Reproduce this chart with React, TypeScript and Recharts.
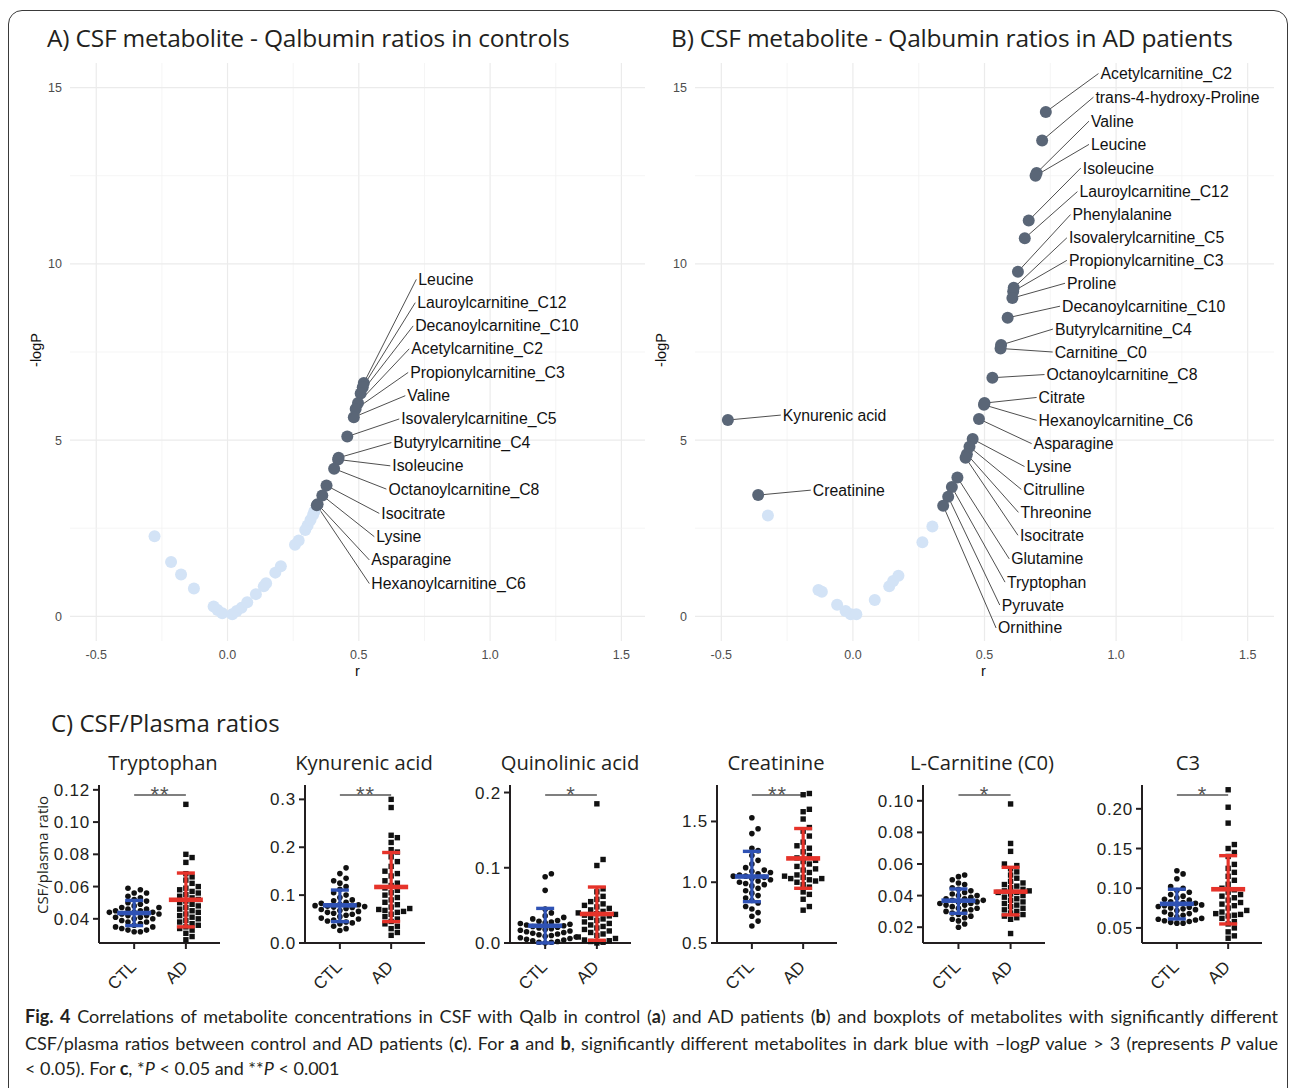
import React from 'react';
import { ScatterChart, Scatter, XAxis, YAxis, ReferenceLine } from 'recharts';

// ---------- Panel A (controls) ----------
const aBgR = [-0.278, -0.215, -0.177, -0.128, -0.053, -0.038, -0.020, 0.018, 0.035, 0.053, 0.075, 0.108, 0.138, 0.147, 0.182, 0.203, 0.257, 0.271, 0.296, 0.305, 0.316, 0.326, 0.331];
const aBgLogP = [2.27, 1.54, 1.19, 0.79, 0.28, 0.18, 0.09, 0.06, 0.15, 0.24, 0.40, 0.63, 0.85, 0.94, 1.24, 1.42, 2.03, 2.15, 2.45, 2.58, 2.73, 2.88, 2.98];
const aSigNames = ['Leucine', 'Lauroylcarnitine_C12', 'Decanoylcarnitine_C10', 'Acetylcarnitine_C2', 'Propionylcarnitine_C3', 'Valine', 'Isovalerylcarnitine_C5', 'Butyrylcarnitine_C4', 'Isoleucine', 'Octanoylcarnitine_C8', 'Isocitrate', 'Lysine', 'Asparagine', 'Hexanoylcarnitine_C6'];
const aSigR = [0.519, 0.515, 0.507, 0.497, 0.488, 0.481, 0.456, 0.423, 0.421, 0.406, 0.377, 0.361, 0.343, 0.340];
const aSigLogP = [6.62, 6.50, 6.32, 6.05, 5.88, 5.65, 5.10, 4.50, 4.45, 4.19, 3.71, 3.43, 3.18, 3.15];
const aLabelR = [0.719, 0.715, 0.707, 0.692, 0.688, 0.677, 0.654, 0.624, 0.620, 0.605, 0.578, 0.559, 0.540, 0.540];
const aLabelLogP = [9.56, 8.90, 8.24, 7.59, 6.92, 6.26, 5.60, 4.93, 4.27, 3.61, 2.92, 2.26, 1.60, 0.93];

// ---------- Panel B (AD patients) ----------
const bBgR = [-0.323, -0.131, -0.118, -0.060, -0.028, -0.008, 0.013, 0.083, 0.138, 0.153, 0.173, 0.264, 0.302];
const bBgLogP = [2.86, 0.75, 0.70, 0.33, 0.15, 0.06, 0.06, 0.46, 0.85, 1.00, 1.15, 2.10, 2.55];
const bSigNames = ['Acetylcarnitine_C2', 'trans-4-hydroxy-Proline', 'Valine', 'Leucine', 'Isoleucine', 'Lauroylcarnitine_C12', 'Phenylalanine', 'Isovalerylcarnitine_C5', 'Propionylcarnitine_C3', 'Proline', 'Decanoylcarnitine_C10', 'Butyrylcarnitine_C4', 'Carnitine_C0', 'Octanoylcarnitine_C8', 'Citrate', 'Hexanoylcarnitine_C6', 'Asparagine', 'Lysine', 'Citrulline', 'Threonine', 'Isocitrate', 'Glutamine', 'Tryptophan', 'Pyruvate', 'Ornithine', 'Kynurenic acid', 'Creatinine'];
const bSigR = [0.733, 0.719, 0.698, 0.694, 0.668, 0.653, 0.627, 0.611, 0.609, 0.606, 0.588, 0.563, 0.561, 0.530, 0.500, 0.498, 0.479, 0.455, 0.443, 0.433, 0.428, 0.397, 0.376, 0.362, 0.343, -0.475, -0.360];
const bSigLogP = [14.31, 13.50, 12.58, 12.50, 11.23, 10.73, 9.78, 9.32, 9.22, 9.03, 8.47, 7.70, 7.60, 6.77, 6.05, 6.00, 5.60, 5.03, 4.81, 4.60, 4.50, 3.94, 3.67, 3.39, 3.14, 5.57, 3.44];
const bLabelR = [0.933, 0.914, 0.897, 0.897, 0.866, 0.853, 0.827, 0.813, 0.813, 0.806, 0.787, 0.760, 0.759, 0.728, 0.698, 0.698, 0.679, 0.652, 0.640, 0.629, 0.627, 0.594, 0.578, 0.558, 0.544, -0.274, -0.160];
const bLabelLogP = [15.40, 14.73, 14.05, 13.39, 12.72, 12.05, 11.40, 10.74, 10.10, 9.45, 8.80, 8.15, 7.50, 6.86, 6.21, 5.56, 4.90, 4.25, 3.60, 2.95, 2.30, 1.63, 0.97, 0.32, -0.33, 5.71, 3.58];

const volcXTicks = [-0.5, 0, 0.5, 1, 1.5];
const volcYTicks = [0, 5, 10, 15];
const volcGridX = [-0.5, -0.25, 0, 0.25, 0.5, 0.75, 1, 1.25, 1.5];
const volcGridY = [0, 2.5, 5, 7.5, 10, 12.5, 15];

// ---------- Panel C (CSF/plasma ratios) ----------
const cTitles = ['Tryptophan', 'Kynurenic acid', 'Quinolinic acid', 'Creatinine', 'L-Carnitine (C0)', 'C3'];
const cGroups = ['CTL', 'AD'];
const cStars = ['**', '**', '*', '**', '*', '*'];

const trpCTL = [0.059, 0.058, 0.056, 0.056, 0.054, 0.053, 0.052, 0.051, 0.050, 0.049, 0.048, 0.047, 0.047, 0.046, 0.046, 0.045, 0.045, 0.044, 0.044, 0.044, 0.043, 0.043, 0.042, 0.042, 0.041, 0.041, 0.040, 0.040, 0.039, 0.038, 0.038, 0.037, 0.036, 0.035, 0.035, 0.034, 0.033, 0.033, 0.032, 0.032];
const trpAD = [0.111, 0.080, 0.078, 0.075, 0.068, 0.066, 0.064, 0.062, 0.060, 0.059, 0.058, 0.057, 0.056, 0.055, 0.054, 0.053, 0.052, 0.051, 0.050, 0.049, 0.048, 0.047, 0.046, 0.045, 0.044, 0.043, 0.042, 0.041, 0.040, 0.039, 0.038, 0.037, 0.036, 0.035, 0.034, 0.033, 0.031, 0.029, 0.027];
const kynCTL = [0.157, 0.145, 0.135, 0.130, 0.125, 0.118, 0.112, 0.105, 0.100, 0.095, 0.090, 0.088, 0.085, 0.083, 0.081, 0.080, 0.078, 0.077, 0.076, 0.075, 0.074, 0.072, 0.070, 0.068, 0.066, 0.064, 0.062, 0.060, 0.058, 0.055, 0.052, 0.050, 0.048, 0.046, 0.044, 0.042, 0.040, 0.035, 0.030, 0.026];
const kynAD = [0.300, 0.283, 0.225, 0.220, 0.210, 0.195, 0.190, 0.180, 0.170, 0.160, 0.150, 0.145, 0.140, 0.130, 0.125, 0.120, 0.115, 0.110, 0.105, 0.100, 0.095, 0.090, 0.085, 0.080, 0.075, 0.072, 0.070, 0.068, 0.066, 0.064, 0.060, 0.055, 0.050, 0.045, 0.040, 0.035, 0.030, 0.022, 0.016];
const quinCTL = [0.092, 0.088, 0.070, 0.045, 0.040, 0.036, 0.034, 0.032, 0.030, 0.029, 0.028, 0.027, 0.026, 0.025, 0.024, 0.023, 0.022, 0.021, 0.020, 0.019, 0.018, 0.017, 0.016, 0.015, 0.014, 0.013, 0.012, 0.011, 0.010, 0.009, 0.008, 0.007, 0.006, 0.005, 0.004, 0.003, 0.002, 0.001, 0.001, 0.000];
const quinAD = [0.185, 0.111, 0.103, 0.072, 0.068, 0.062, 0.058, 0.055, 0.052, 0.050, 0.048, 0.046, 0.044, 0.042, 0.040, 0.039, 0.038, 0.037, 0.036, 0.034, 0.032, 0.030, 0.028, 0.026, 0.024, 0.022, 0.020, 0.018, 0.016, 0.014, 0.012, 0.010, 0.008, 0.006, 0.004, 0.003, 0.002, 0.001, 0.000];
const creaCTL = [1.53, 1.44, 1.40, 1.28, 1.26, 1.22, 1.18, 1.15, 1.12, 1.10, 1.09, 1.08, 1.07, 1.06, 1.05, 1.05, 1.04, 1.03, 1.02, 1.01, 1.00, 0.99, 0.98, 0.97, 0.95, 0.93, 0.91, 0.89, 0.87, 0.85, 0.83, 0.80, 0.78, 0.75, 0.72, 0.68, 0.64];
const creaAD = [1.73, 1.72, 1.60, 1.58, 1.52, 1.45, 1.42, 1.38, 1.33, 1.30, 1.28, 1.25, 1.22, 1.20, 1.18, 1.17, 1.15, 1.13, 1.11, 1.10, 1.08, 1.06, 1.05, 1.04, 1.03, 1.03, 1.02, 1.01, 1.00, 0.98, 0.96, 0.92, 0.90, 0.86, 0.80, 0.77];
const carnCTL = [0.053, 0.052, 0.050, 0.048, 0.047, 0.045, 0.044, 0.043, 0.042, 0.041, 0.040, 0.040, 0.039, 0.038, 0.038, 0.037, 0.037, 0.036, 0.036, 0.035, 0.035, 0.034, 0.034, 0.033, 0.032, 0.032, 0.031, 0.030, 0.030, 0.029, 0.028, 0.027, 0.026, 0.025, 0.024, 0.022, 0.020];
const carnAD = [0.098, 0.073, 0.068, 0.060, 0.059, 0.057, 0.055, 0.053, 0.051, 0.049, 0.048, 0.047, 0.046, 0.045, 0.044, 0.043, 0.043, 0.042, 0.042, 0.041, 0.040, 0.039, 0.038, 0.037, 0.036, 0.035, 0.034, 0.033, 0.032, 0.031, 0.030, 0.029, 0.028, 0.027, 0.026, 0.025, 0.016];
const c3CTL = [0.122, 0.118, 0.112, 0.102, 0.100, 0.097, 0.095, 0.092, 0.090, 0.088, 0.086, 0.085, 0.083, 0.082, 0.081, 0.080, 0.079, 0.078, 0.077, 0.076, 0.075, 0.074, 0.073, 0.072, 0.070, 0.068, 0.067, 0.066, 0.064, 0.062, 0.061, 0.060, 0.059, 0.058, 0.057, 0.056, 0.056];
const c3AD = [0.224, 0.202, 0.182, 0.155, 0.150, 0.145, 0.140, 0.130, 0.125, 0.120, 0.115, 0.110, 0.105, 0.100, 0.098, 0.095, 0.092, 0.090, 0.088, 0.085, 0.082, 0.080, 0.078, 0.075, 0.072, 0.070, 0.068, 0.067, 0.066, 0.065, 0.062, 0.058, 0.055, 0.050, 0.045, 0.040, 0.037];

const cCtlValues = [trpCTL, kynCTL, quinCTL, creaCTL, carnCTL, c3CTL];
const cAdValues = [trpAD, kynAD, quinAD, creaAD, carnAD, c3AD];
const ctlMean = [0.0436, 0.0787, 0.0229, 1.047, 0.0368, 0.0803];
const ctlLow = [0.0358, 0.0447, 0.0000, 0.840, 0.0288, 0.0613];
const ctlHigh = [0.0514, 0.1106, 0.0460, 1.254, 0.0442, 0.0987];
const adMean = [0.0518, 0.117, 0.0386, 1.196, 0.0425, 0.0987];
const adLow = [0.0350, 0.0447, 0.0036, 0.950, 0.0278, 0.0550];
const adHigh = [0.0684, 0.189, 0.0744, 1.442, 0.0579, 0.141];
const cYDomains = [[0.025, 0.123], [0, 0.33], [0, 0.21], [0.5, 1.8], [0.01, 0.11], [0.031, 0.23]];
const cYTicks = [[0.04, 0.06, 0.08, 0.10, 0.12], [0, 0.1, 0.2, 0.3], [0, 0.1, 0.2], [0.5, 1.0, 1.5], [0.02, 0.04, 0.06, 0.08, 0.10], [0.05, 0.10, 0.15, 0.20]];
const cDecimals = [2, 1, 1, 1, 2, 2];

// ---------- layout (pixels) ----------
const cAxisLeft = [99, 305, 510, 717, 923, 1142];
const cAxisRight = [220, 425, 631, 837, 1045, 1262];
const cTitleX = [163, 364, 570, 776, 982, 1188];
const C_TOP = 785;
const C_BOTTOM = 943;
const C_XDOMAIN = [0.32, 2.66];
const DOT = 6.2;

const SANS = "'Liberation Sans', Arial, sans-serif";
const MYRIAD = "'Open Sans', 'Noto Sans', sans-serif";
const INK = '#231f20';
const DARK = '#5a6677';
const LIGHT = '#d3e3f6';
const BLUE = '#2f52b4';
const RED = '#e6332a';

function swarm(values: number[], center: number, pxPerY: number, pxPerX: number) {
  const sorted = [...values].sort((a, b) => a - b);
  const placed: { x: number; y: number }[] = [];
  const out: { x: number; y: number }[] = [];
  for (const v of sorted) {
    const py = v * pxPerY;
    let off = 0;
    for (let step = 0; step < 60; step++) {
      const cand = step === 0 ? 0 : (step % 2 === 1 ? 1 : -1) * Math.ceil(step / 2) * DOT;
      const ok = placed.every((p) => Math.hypot(p.x - cand, p.y - py) >= DOT - 0.01);
      if (ok) { off = cand; break; }
    }
    placed.push({ x: off, y: py });
    out.push({ x: center + off / pxPerX, y: v });
  }
  return out;
}

const DarkDot = (p: any) => <circle cx={p.cx} cy={p.cy} r={6} fill={DARK} />;
const LightDot = (p: any) => <circle cx={p.cx} cy={p.cy} r={6} fill={LIGHT} />;
const LabelText = (p: any) => (
  <text x={p.cx + 2} y={p.cy} dominantBaseline="central" fontSize={15.8} fontFamily={SANS} fill="#111">
    {p.payload.name}
  </text>
);

function Volcano(props: {
  left: number; width: number; marginLeft: number; xMax: number;
  bgR: number[]; bgP: number[]; sigR: number[]; sigP: number[];
  names: string[]; labR: number[]; labP: number[];
}) {
  const { left, width, marginLeft, xMax, bgR, bgP, sigR, sigP, names, labR, labP } = props;
  const bg = bgR.map((x, i) => ({ x, y: bgP[i] }));
  const sig = sigR.map((x, i) => ({ x, y: sigP[i] }));
  const labels = names.map((name, i) => ({ x: labR[i], y: labP[i], name }));
  return (
    <div style={{ position: 'absolute', left, top: 0 }}>
      <ScatterChart width={width} height={690} margin={{ top: 63, right: 5, bottom: 0, left: marginLeft }}>
        <XAxis type="number" dataKey="x" domain={[-0.6, xMax]} ticks={volcXTicks} axisLine={false} tickLine={false}
          tickSize={4} tickMargin={5} height={49} tickFormatter={(v: number) => v.toFixed(1)}
          tick={{ fill: '#4d4d4d', fontSize: 12.5, fontFamily: SANS }} allowDataOverflow />
        <YAxis type="number" dataKey="y" domain={[-0.7, 15.7]} ticks={volcYTicks} axisLine={false} tickLine={false}
          tickSize={4} tickMargin={4} width={50}
          tick={{ fill: '#4d4d4d', fontSize: 12.5, fontFamily: SANS }} allowDataOverflow />
        {volcGridX.map((g) => (
          <ReferenceLine key={'gx' + g} x={g} stroke={g % 0.5 === 0 ? '#ebebeb' : '#f3f3f3'} strokeWidth={g % 0.5 === 0 ? 1.2 : 0.8} />
        ))}
        {volcGridY.map((g) => (
          <ReferenceLine key={'gy' + g} y={g} stroke={g % 5 === 0 ? '#ebebeb' : '#f3f3f3'} strokeWidth={g % 5 === 0 ? 1.2 : 0.8} />
        ))}
        <Scatter data={bg} shape={LightDot} isAnimationActive={false} />
        <Scatter data={sig} shape={DarkDot} isAnimationActive={false} />
        {names.map((n, i) => (
          <ReferenceLine key={'seg' + i} ifOverflow="visible" stroke="#222" strokeWidth={0.8}
            segment={[{ x: sigR[i], y: sigP[i] }, { x: labR[i], y: labP[i] }]} />
        ))}
        <Scatter data={labels} shape={LabelText} isAnimationActive={false} />
      </ScatterChart>
    </div>
  );
}

const CircleDot = (p: any) => <circle cx={p.cx} cy={p.cy} r={2.8} fill="#111" />;
const SquareDot = (p: any) => <rect x={p.cx - 2.7} y={p.cy - 2.7} width={5.4} height={5.4} fill="#111" />;
const makeMeanBar = (col: string) => (p: any) => (
  <rect x={p.cx - 17} y={p.cy - 2.3} width={34} height={4.6} fill={col} />
);
const makeCap = (col: string) => (p: any) => (
  <rect x={p.cx - 9} y={p.cy - 1.7} width={18} height={3.4} fill={col} />
);
const BlueMean = makeMeanBar(BLUE);
const RedMean = makeMeanBar(RED);
const BlueCap = makeCap(BLUE);
const RedCap = makeCap(RED);
const StarText = (p: any) => (
  <text x={p.cx} y={p.cy + 7} textAnchor="middle" fontSize={22} letterSpacing={1} fontFamily={SANS} fill="#555">
    {p.payload.label}
  </text>
);
const GroupTick = (p: any) => (
  <g transform={`translate(${p.x + 3},${p.y + 17})`}>
    <text textAnchor="end" transform="rotate(-45)" fontSize={17} fontFamily={SANS} fill={INK}>
      {cGroups[Math.round(p.payload.value) - 1]}
    </text>
  </g>
);

function Dotplot({ idx }: { idx: number }) {
  const axL = cAxisLeft[idx];
  const axR = cAxisRight[idx];
  const [ymin, ymax] = cYDomains[idx];
  const plotH = C_BOTTOM - C_TOP;
  const pxPerY = plotH / (ymax - ymin);
  const pxPerX = (axR - axL) / (C_XDOMAIN[1] - C_XDOMAIN[0]);
  const ctl = swarm(cCtlValues[idx], 1, pxPerY, pxPerX);
  const ad = swarm(cAdValues[idx], 2, pxPerY, pxPerX);
  const sigY = ymax - (10 / plotH) * (ymax - ymin);
  const dec = cDecimals[idx];
  const ctlSd = [{ x: 1, y: ctlLow[idx] }, { x: 1, y: ctlHigh[idx] }];
  const adSd = [{ x: 2, y: adLow[idx] }, { x: 2, y: adHigh[idx] }];
  return (
    <div style={{ position: 'absolute', left: axL - 62, top: C_TOP - 10 }}>
      <ScatterChart width={axR - axL + 66} height={plotH + 70} margin={{ top: 10, right: 4, bottom: 0, left: 0 }}>
        <XAxis type="number" dataKey="x" domain={C_XDOMAIN} ticks={[1, 2]} height={60}
          axisLine={{ stroke: INK, strokeWidth: 2 }} tickLine={{ stroke: INK, strokeWidth: 2 }} tickSize={6}
          tick={GroupTick} />
        <YAxis type="number" dataKey="y" domain={[ymin, ymax]} ticks={cYTicks[idx]} width={62}
          axisLine={{ stroke: INK, strokeWidth: 2 }} tickLine={{ stroke: INK, strokeWidth: 2 }} tickSize={6} tickMargin={3}
          tickFormatter={(v: number) => v.toFixed(dec)}
          tick={{ fill: INK, fontSize: 17, fontFamily: SANS, letterSpacing: 0.8 }} />
        <Scatter data={ctl} shape={CircleDot} isAnimationActive={false} />
        <Scatter data={ad} shape={SquareDot} isAnimationActive={false} />
        <Scatter data={ctlSd} shape={BlueCap} line={{ stroke: BLUE, strokeWidth: 3.2 }} isAnimationActive={false} />
        <Scatter data={adSd} shape={RedCap} line={{ stroke: RED, strokeWidth: 3.2 }} isAnimationActive={false} />
        <Scatter data={[{ x: 1, y: ctlMean[idx] }]} shape={BlueMean} isAnimationActive={false} />
        <Scatter data={[{ x: 2, y: adMean[idx] }]} shape={RedMean} isAnimationActive={false} />
        <ReferenceLine ifOverflow="visible" stroke="#555" strokeWidth={1.3}
          segment={[{ x: 1, y: sigY }, { x: 2, y: sigY }]} />
        <Scatter data={[{ x: 1.5, y: sigY, label: cStars[idx] }]} shape={StarText} isAnimationActive={false} />
      </ScatterChart>
    </div>
  );
}

const abs = (s: React.CSSProperties): React.CSSProperties => ({ position: 'absolute', whiteSpace: 'nowrap', ...s });

export default function App() {
  const capLine: React.CSSProperties = {
    position: 'absolute', left: 25, width: 1253, fontFamily: "Lato, 'Open Sans', sans-serif", fontSize: 18,
    color: INK, lineHeight: '20px', textAlign: 'justify', textAlignLast: 'justify',
  };
  return (
    <div style={{ position: 'absolute', left: 0, top: 0, width: 1292, height: 1088, background: '#fff', overflow: 'hidden' }}>
      <div style={{ position: 'absolute', left: 8, top: 10, width: 1280, height: 1100, border: '1.5px solid #3a3a3a', borderRadius: 14, boxSizing: 'border-box' }} />
      <div style={abs({ left: 47, top: 21, fontFamily: MYRIAD, fontSize: 24.5, color: INK, letterSpacing: -0.2 })}>
        A) CSF metabolite - Qalbumin ratios in controls
      </div>
      <div style={abs({ left: 671, top: 21, fontFamily: MYRIAD, fontSize: 24.5, color: INK, letterSpacing: -0.2 })}>
        B) CSF metabolite - Qalbumin ratios in AD patients
      </div>
      <Volcano left={0} width={650} marginLeft={20} xMax={1.59}
        bgR={aBgR} bgP={aBgLogP} sigR={aSigR} sigP={aSigLogP} names={aSigNames} labR={aLabelR} labP={aLabelLogP} />
      <Volcano left={640} width={639} marginLeft={5} xMax={1.6}
        bgR={bBgR} bgP={bBgLogP} sigR={bSigR} sigP={bSigLogP} names={bSigNames} labR={bLabelR} labP={bLabelLogP} />
      <div style={abs({ left: 19, top: 342, transform: 'rotate(-90deg)', fontFamily: SANS, fontSize: 14.5, color: '#111' })}>-logP</div>
      <div style={abs({ left: 644, top: 342, transform: 'rotate(-90deg)', fontFamily: SANS, fontSize: 14.5, color: '#111' })}>-logP</div>
      <div style={abs({ left: 355, top: 663, fontFamily: SANS, fontSize: 14.5, color: '#111' })}>r</div>
      <div style={abs({ left: 981, top: 663, fontFamily: SANS, fontSize: 14.5, color: '#111' })}>r</div>

      <div style={abs({ left: 51, top: 706, fontFamily: MYRIAD, fontSize: 24, color: INK })}>C) CSF/Plasma ratios</div>
      {cTitles.map((t, i) => (
        <div key={t} style={abs({ left: cTitleX[i], top: 748, transform: 'translateX(-50%)', fontFamily: MYRIAD, fontSize: 20.2, color: INK })}>{t}</div>
      ))}
      <div style={abs({ left: 42, top: 855, transform: 'translate(-50%,-50%) rotate(-90deg)', fontFamily: MYRIAD, fontSize: 15, color: INK })}>CSF/plasma ratio</div>
      {cTitles.map((t, i) => <Dotplot key={'dp' + t} idx={i} />)}

      <div style={{ ...capLine, top: 1006 }}>
        <b>Fig. 4</b> Correlations of metabolite concentrations in CSF with Qalb in control (<b>a</b>) and AD patients (<b>b</b>) and boxplots of metabolites with significantly different
      </div>
      <div style={{ ...capLine, top: 1033 }}>
        CSF/plasma ratios between control and AD patients (<b>c</b>). For <b>a</b> and <b>b</b>, significantly different metabolites in dark blue with –log<i>P</i> value &gt; 3 (represents <i>P</i> value
      </div>
      <div style={{ ...capLine, top: 1058, textAlign: 'left', textAlignLast: 'left' }}>
        &lt; 0.05). For <b>c</b>, *<i>P</i> &lt; 0.05 and **<i>P</i> &lt; 0.001
      </div>
    </div>
  );
}
